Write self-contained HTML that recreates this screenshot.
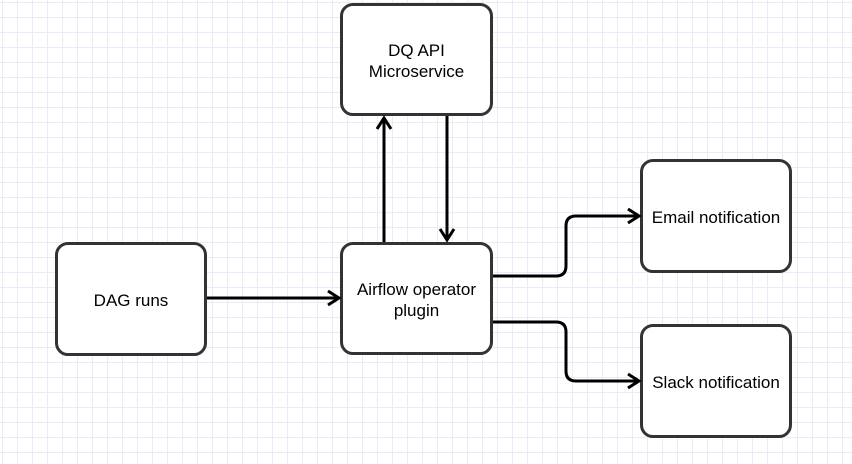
<!DOCTYPE html>
<html><head><style>
body{margin:0;width:852px;height:464px;overflow:hidden;background:#fff;
background-image:linear-gradient(#ebebf7 1px,transparent 1px),linear-gradient(90deg,#ebebf7 1px,transparent 1px);
background-size:15px 15px;background-position:2px 2px;font-family:"Liberation Sans",sans-serif;}
.b{position:absolute;box-sizing:border-box;border:3px solid #333;border-radius:13px;background:#fff;display:flex;align-items:center;justify-content:center;text-align:center;font-size:17px;color:#000;line-height:21px;padding-top:3px}
svg{position:absolute;left:0;top:0}
</style></head><body>
<div class="b" style="left:340px;top:3px;width:153px;height:113px">DQ API<br>Microservice</div>
<div class="b" style="left:340px;top:242px;width:153px;height:113px">Airflow operator<br>plugin</div>
<div class="b" style="left:55px;top:242px;width:152px;height:114px">DAG runs</div>
<div class="b" style="left:640px;top:159px;width:152px;height:114px">Email notification</div>
<div class="b" style="left:640px;top:324px;width:152px;height:114px">Slack notification</div>
<svg width="852" height="464" fill="none" stroke="#000" stroke-width="3">
<path d="M384 242V120"/><path d="M377 129L384 118L391 129"/>
<path d="M447 116V238"/><path d="M440 229L447 240L454 229"/>
<path d="M207 298H337"/><path d="M328 291L339 298L328 305"/>
<path d="M493 276H556Q566 276 566 266V226Q566 216 576 216H637"/><path d="M628 209L639 216L628 223"/>
<path d="M493 322H556Q566 322 566 332V371Q566 381 576 381H637"/><path d="M628 374L639 381L628 388"/>
</svg>
</body></html>
